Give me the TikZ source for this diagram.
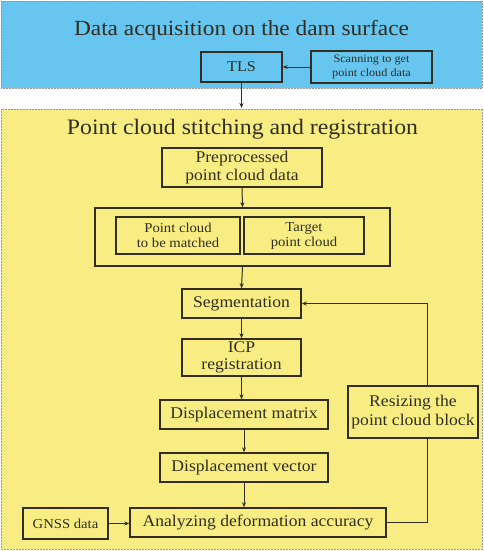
\documentclass[tikz,border=0pt]{standalone}
\usepackage{fontspec}
\setmainfont[FakeStretch=1.08]{Liberation Serif}
\usetikzlibrary{arrows.meta}
\definecolor{skyb}{RGB}{102,198,240}
\definecolor{yel}{RGB}{248,237,130}
\definecolor{ln}{RGB}{50,44,33}
\definecolor{dotc}{RGB}{150,150,150}
\tikzset{
  box/.style={draw=ln, line width=1.4pt, inner sep=0pt, align=center, text=ln},
  arr/.style={draw=ln, line width=1pt, -{Stealth[length=5pt,width=4pt]}},
  region/.style={draw=dotc, densely dotted, line width=0.5pt},
  big/.style={font=\fontsize{16.3}{18}\selectfont},
}
\begin{document}
\begin{tikzpicture}[x=1pt,y=-1pt]
\useasboundingbox (0,0) rectangle (484,551);
% regions
\draw[region, fill=skyb] (1,1) rectangle (482,88);
\draw[region, fill=yel] (1,109) rectangle (482,549);
\node[text=ln, anchor=base, font=\fontsize{21.6}{24}\selectfont] (t1) at (241.5,36) {Data acquisition on the dam surface};
\node[text=ln, anchor=base, font=\fontsize{22}{24}\selectfont] (t2) at (242.5,134) {Point cloud stitching and registration};
% top boxes
\node[box, minimum width=81pt, minimum height=30pt, font=\fontsize{15}{16}\selectfont] (tls) at (241.5,67) {TLS};
\node[box, minimum width=121pt, minimum height=32pt, font=\fontsize{11.3}{14.3}\selectfont] (scan) at (371.5,67) {Scanning to get\\point cloud data};
\coordinate (ytop) at (241.5,108);
% yellow boxes
\node[box, minimum width=160pt, minimum height=39pt, big] (pre) at (242,167.5) {Preprocessed\\point cloud data};
\node[box, minimum width=295pt, minimum height=58pt] (outer) at (242.5,237) {};
\node[box, minimum width=124pt, minimum height=37pt, font=\fontsize{13.6}{15}\selectfont] (pc1) at (178,235.5) {Point cloud\\to be matched};
\node[box, minimum width=120pt, minimum height=37pt, font=\fontsize{13.6}{15}\selectfont] (pc2) at (304,235.5) {Target\\point cloud};
\node[box, minimum width=119pt, minimum height=29pt, big] (seg) at (241.5,303.5) {Segmentation};
\node[box, minimum width=119pt, minimum height=37pt, font=\fontsize{16.3}{17}\selectfont] (icp) at (241.5,357.5) {ICP\\registration};
\node[box, minimum width=168pt, minimum height=29pt, big] (dm) at (244,414.5) {Displacement matrix};
\node[box, minimum width=168pt, minimum height=29pt, big] (dv) at (244,467.5) {Displacement vector};
\node[box, minimum width=256pt, minimum height=29pt, big] (ana) at (258,522.5) {Analyzing deformation accuracy};
\node[box, minimum width=85pt, minimum height=31pt, font=\fontsize{13.6}{15}\selectfont] (gnss) at (65.5,523.5) {GNSS data};
\node[box, minimum width=130pt, minimum height=52pt, font=\fontsize{16.3}{19}\selectfont] (res) at (413,412) {Resizing the\\point cloud block};
% arrows
\draw[arr] (scan.west) -- (tls.east);
\draw[arr] (tls.south) -- (ytop);
\draw[arr] (pre.south) -- (outer.north);
\draw[arr] (outer.south) -- (seg.north);
\draw[arr] (seg.south) -- (icp.north);
\draw[arr] (icp.south) -- (icp.south |- dm.north);
\draw[arr] (dm.south) -- (dv.north);
\draw[arr] (dv.south) -- (dv.south |- ana.north);
\draw[arr] (gnss.east) -- (gnss.east -| ana.west);
\draw[draw=ln, line width=1pt] (ana.east) -| (427,0 |- res.south);
\draw[arr] (427,0 |- res.north) |- (seg.east);
\end{tikzpicture}
\end{document}
